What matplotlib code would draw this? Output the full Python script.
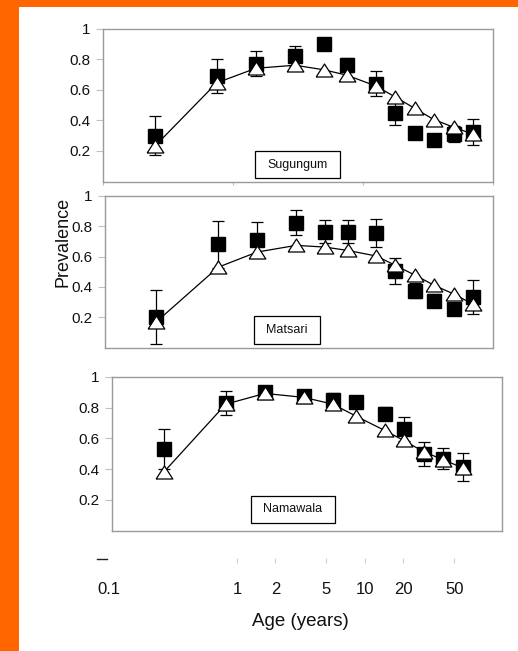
import matplotlib
matplotlib.use("Agg")
import matplotlib.pyplot as plt
from matplotlib.patches import Rectangle
from matplotlib.lines import Line2D

plt.rcParams['font.family'] = ['Liberation Sans', 'DejaVu Sans']

# ---- data ----
ages = [0.25, 0.75, 1.5, 3, 5, 7.5, 12.5, 17.5, 25, 35, 50, 70]

sug_obs = [0.30, 0.69, 0.77, 0.82, 0.90, 0.76, 0.64, 0.45, 0.315, 0.27, 0.31, 0.325]
sug_err = [0.125, 0.11, 0.08, 0.068, 0.035, 0.045, 0.08, 0.08, 0.035, 0.04, 0.05, 0.085]
sug_fit = [0.23, 0.645, 0.74, 0.76, 0.73, 0.695, 0.625, 0.555, 0.478, 0.405, 0.354, 0.31]

mat_obs = [0.20, 0.68, 0.71, 0.825, 0.765, 0.765, 0.755, 0.505, 0.375, 0.31, 0.255, 0.335]
mat_err = [0.18, 0.155, 0.12, 0.083, 0.078, 0.075, 0.09, 0.087, 0.05, 0.04, 0.04, 0.112]
mat_fit = [0.17, 0.53, 0.63, 0.674, 0.663, 0.641, 0.604, 0.543, 0.477, 0.411, 0.352, 0.286]

nam_obs = [0.53, 0.83, 0.90, 0.877, 0.85, 0.834, 0.762, 0.66, 0.50, 0.467, 0.414]
nam_err = [0.128, 0.078, 0.035, 0.04, 0.045, 0.03, 0.042, 0.08, 0.077, 0.068, 0.09]
nam_fit = [0.38, 0.823, 0.893, 0.867, 0.823, 0.746, 0.652, 0.587, 0.513, 0.462, 0.408]

village_names = ["Sugungum", "Matsari", "Namawala"]
ytick_vals = [0.2, 0.4, 0.6, 0.8, 1.0]
ytick_labels = ["0.2", "0.4", "0.6", "0.8", "1"]
xtick_vals = [0.1, 1, 2, 5, 10, 20, 50]
xtick_labels = ["0.1", "1", "2", "5", "10", "20", "50"]

W, H = 518, 651
fig = plt.figure(figsize=(W / 100, H / 100), dpi=100)
fig.patch.set_facecolor("white")

# orange frame strips
fig.add_artist(Rectangle((0, 0), 19 / W, 1, transform=fig.transFigure,
                         facecolor="#FF6600", edgecolor="none"))
fig.add_artist(Rectangle((0, 1 - 7 / H), 1, 7 / H, transform=fig.transFigure,
                         facecolor="#FF6600", edgecolor="none"))


def px_axes(left, top, right, bottom):
    return fig.add_axes([left / W, 1 - bottom / H, (right - left) / W, (bottom - top) / H])


panels = [
    (px_axes(103, 28.5, 493, 181.5), sug_obs, sug_err, sug_fit, (0.39, 0.023, 0.608, 0.199)),
    (px_axes(105, 196, 493, 347.5), mat_obs, mat_err, mat_fit, (0.384, 0.023, 0.554, 0.208)),
    (px_axes(112, 377, 502, 530.5), nam_obs, nam_err, nam_fit, (0.356, 0.049, 0.572, 0.225)),
]

flat_tri = [(-1, -0.78), (1, -0.78), (0, 0.78), (-1, -0.78)]

spine_col = "#9a9a9a"
for i, (ax, obs, err, fit, box) in enumerate(panels):
    x = ages[:len(obs)]
    ax.set_xscale("log")
    ax.set_xlim(0.1, 100)
    ax.set_ylim(0, 1)
    ax.errorbar(x, obs, yerr=err, fmt="s", color="black", ms=9.5, ecolor="black",
                elinewidth=0.9, capsize=4, capthick=0.9, zorder=2)
    ax.plot(x, fit, "-", color="black", lw=0.9, marker=flat_tri, ms=12,
            mfc="white", mec="black", mew=0.9, zorder=3)
    for s in ax.spines.values():
        s.set_color(spine_col)
        s.set_linewidth(1)
    ax.set_yticks(ytick_vals)
    ax.set_yticklabels(ytick_labels)
    ax.tick_params(axis="y", direction="out", length=5, width=0.8, color="#c0c0c0",
                   labelsize=11, pad=4, labelcolor="#111111")
    ax.yaxis.set_minor_locator(matplotlib.ticker.NullLocator())
    if i == 0:
        ax.set_xticks([0.1, 1, 10, 100])
        ax.set_xticklabels([])
        ax.tick_params(axis="x", direction="out", length=2.5, width=0.8, color="#c0c0c0")
    else:
        ax.set_xticks([])
    ax.xaxis.set_minor_locator(matplotlib.ticker.NullLocator())
    x0, y0, x1, y1 = box
    ax.add_patch(Rectangle((x0, y0), x1 - x0, y1 - y0, transform=ax.transAxes,
                           facecolor="white", edgecolor="black", lw=0.9, zorder=4))
    ax.text((x0 + x1) / 2, (y0 + y1) / 2, village_names[i], transform=ax.transAxes,
            ha="center", va="center", fontsize=9, color="#111111", zorder=5)

# odd dark ticks seen in the reference
panels[1][0].yaxis.get_major_ticks()[4].tick1line.set_color("#333333")
panels[2][0].yaxis.get_major_ticks()[3].tick1line.set_color("#333333")

# bottom age axis
axb = px_axes(103, 557, 493, 558)
axb.set_xscale("log")
axb.set_xlim(0.09, 100)
axb.set_yticks([])
for s in axb.spines.values():
    s.set_visible(False)
axb.patch.set_alpha(0)
axb.set_xticks(xtick_vals)
axb.set_xticklabels(xtick_labels)
axb.xaxis.set_minor_locator(matplotlib.ticker.NullLocator())
axb.tick_params(axis="x", direction="out", length=3.5, width=0.8, color="#d0d0d0",
                labelsize=12, pad=14, labelcolor="#111111")
axb.get_xticklines()[0].set_visible(False)
fig.add_artist(Line2D([97 / W, 107 / W], [1 - 559 / H, 1 - 559 / H],
                      transform=fig.transFigure, color="#222222", lw=1))

fig.text(300 / W, 1 - 621 / H, "Age (years)", ha="center", va="center",
         fontsize=13.5, color="#111111")
fig.text(63 / W, 1 - 242 / H, "Prevalence", ha="center", va="center",
         rotation=90, fontsize=13, color="#111111")

fig.savefig("out.png", dpi=100, facecolor="white")
